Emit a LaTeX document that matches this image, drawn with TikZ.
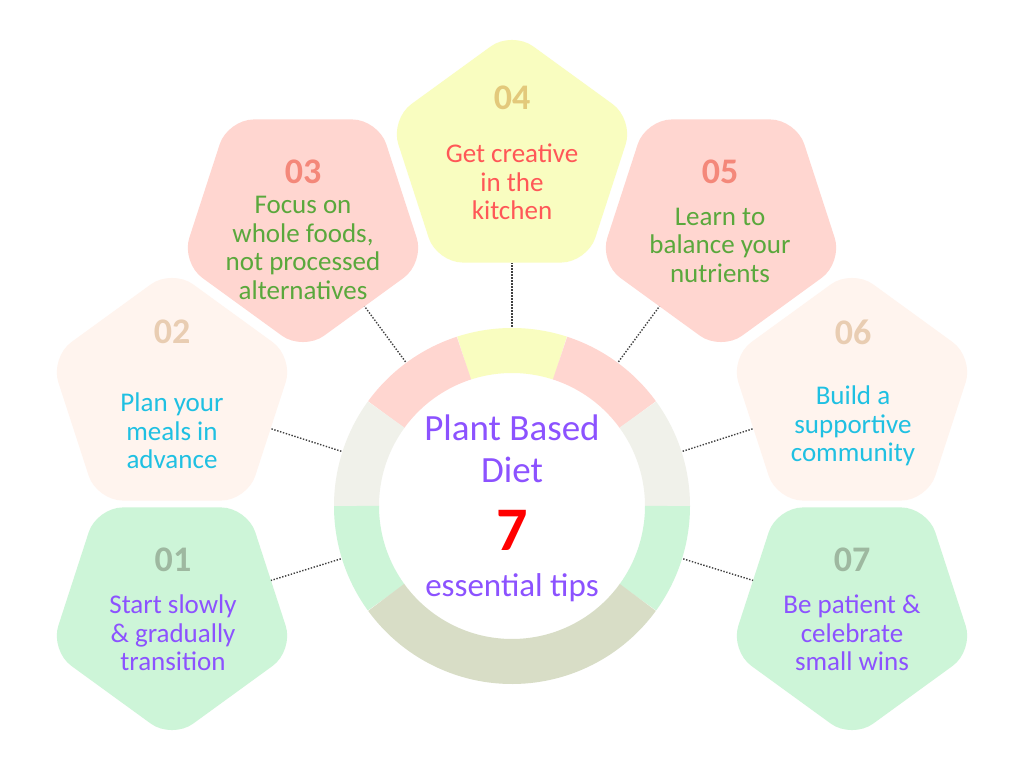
\documentclass[tikz,border=0pt]{standalone}
\usepackage{fontspec}
\setmainfont{Carlito}
\usetikzlibrary{shapes.geometric, positioning}

\definecolor{fillgreen}{HTML}{CDF5D8}
\definecolor{fillpeach}{HTML}{FFF4EE}
\definecolor{fillpink}{HTML}{FFD6D0}
\definecolor{fillyellow}{HTML}{F9FDC0}
\definecolor{ringgray}{HTML}{F0F1EA}
\definecolor{ringolive}{HTML}{D8DDC6}
\definecolor{numgreen}{HTML}{9EB8A0}
\definecolor{numtan}{HTML}{E9CDB2}
\definecolor{numsalmon}{HTML}{F4887A}
\definecolor{numgold}{HTML}{E3C97B}
\definecolor{txtpurple}{HTML}{8C52FF}
\definecolor{txtcyan}{HTML}{1FC0E2}
\definecolor{txtgreen}{HTML}{5AA83C}
\definecolor{txtred}{HTML}{FF5757}

\begin{document}
\begin{tikzpicture}[
    x=1pt, y=1pt,
    tipup/.style={regular polygon, regular polygon sides=5, minimum size=256pt, inner sep=0pt, outer sep=0pt, fill=#1, rounded corners=26pt},
    tipdown/.style={tipup=#1, shape border rotate=180},
    num/.style={font=\fontsize{36}{36}\selectfont\bfseries, text=#1},
    body/.style={align=center, font=\fontsize{27}{28.5}\selectfont, text=#1},
    band/.style={line width=45pt, draw=#1},
    link/.style={draw=black!75, line width=1.4pt, dash pattern=on 1.4pt off 1.6pt}
]
    \fill[white] (-512,-262) rectangle (512,506);
    \useasboundingbox (-512,-262) rectangle (512,506);

    % ring round the title
    \draw[band=fillyellow] (72:155.5pt) arc[start angle=72, end angle=108, radius=155.5pt];
    \draw[band=fillpink] (108:155.5pt) arc[start angle=108, end angle=144, radius=155.5pt];
    \draw[band=fillpink] (36:155.5pt) arc[start angle=36, end angle=72, radius=155.5pt];
    \draw[band=ringgray] (144:155.5pt) arc[start angle=144, end angle=180, radius=155.5pt];
    \draw[band=ringgray] (0:155.5pt) arc[start angle=0, end angle=36, radius=155.5pt];
    \draw[band=fillgreen] (180:155.5pt) arc[start angle=180, end angle=216, radius=155.5pt];
    \draw[band=fillgreen] (-36:155.5pt) arc[start angle=-36, end angle=0, radius=155.5pt];
    \draw[band=ringolive] (216:155.5pt) arc[start angle=216, end angle=324, radius=155.5pt];
    \node [circle, minimum size=358pt, inner sep=0pt] (hub) at (0,0) {};

    \node [align=center, text=txtpurple, font=\fontsize{37}{42}\selectfont] (title) at (0,57) {Plant Based\\Diet};
    \node [text=red, font=\fontsize{62}{62}\selectfont\bfseries] (seven) at (0,-24) {7};
    \node [text=txtpurple, font=\fontsize{33}{33}\selectfont] (tips) at (0,-82) {essential tips};

    % the seven tips
    \node [tipdown=fillgreen] (p1) at (-340,-105) {};
    \node [tipup=fillpeach] (p2) at (-340,109) {};
    \node [tipdown=fillpink] (p3) at (-209,283) {};
    \node [tipup=fillyellow] (p4) at (0,347) {};
    \node [tipdown=fillpink] (p5) at (209,283) {};
    \node [tipup=fillpeach] (p6) at (340,109) {};
    \node [tipdown=fillgreen] (p7) at (340,-105) {};

    \node [num=numgreen] (n1) at (-339,-54) {01};
    \node [body=txtpurple] (t1) at (-339,-127) {Start slowly\\\& gradually\\transition};
    \node [num=numtan] (n2) at (-340,174) {02};
    \node [body=txtcyan] (t2) at (-340,75) {Plan your\\meals in\\advance};
    \node [num=numsalmon] (n3) at (-209,334) {03};
    \node [body=txtgreen] (t3) at (-209,258) {Focus on\\whole foods,\\not processed\\alternatives};
    \node [num=numgold] (n4) at (0,408) {04};
    \node [body=txtred] (t4) at (0,324) {Get creative\\in the\\kitchen};
    \node [num=numsalmon] (n5) at (208,334) {05};
    \node [body=txtgreen] (t5) at (208,261) {Learn to\\balance your\\nutrients};
    \node [num=numtan] (n6) at (341,174) {06};
    \node [body=txtcyan] (t6) at (341,80) {Build a\\supportive\\community};
    \node [num=numgreen] (n7) at (340,-54) {07};
    \node [body=txtpurple] (t7) at (340,-127) {Be patient \&\\celebrate\\small wins};

    \draw [link] (hub) -- (p1);
    \draw [link] (hub) -- (p2);
    \draw [link] (hub) -- (p3);
    \draw [link] (hub) -- (p4);
    \draw [link] (hub) -- (p5);
    \draw [link] (hub) -- (p6);
    \draw [link] (hub) -- (p7);
\end{tikzpicture}
\end{document}
